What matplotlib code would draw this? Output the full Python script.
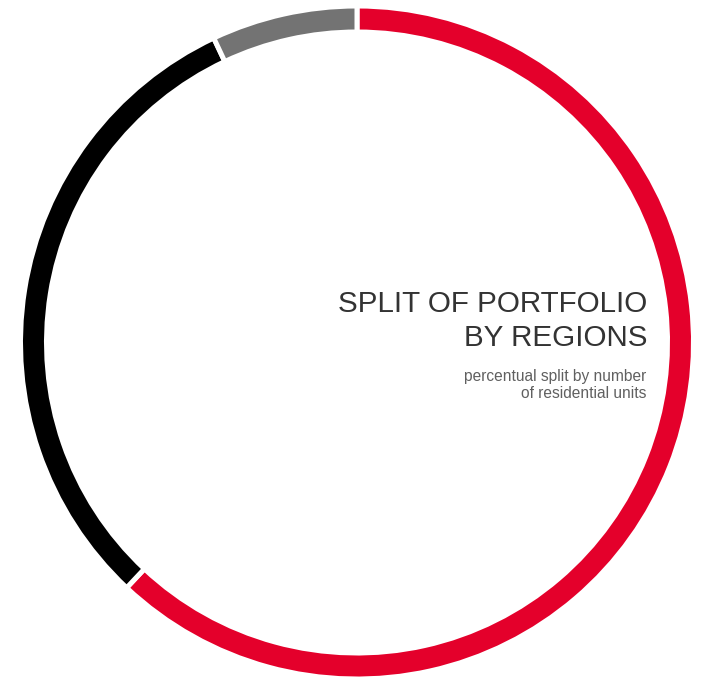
import matplotlib.pyplot as plt

regions = ['Region A', 'Region B', 'Region C']
shares = [62, 31, 7]
colors = ['#E4002B', '#000000', '#737373']

title_lines = ['SPLIT OF PORTFOLIO', 'BY REGIONS']
subtitle_lines = ['percentual split by number', 'of residential units']

W, H = 703, 677
fig = plt.figure(figsize=(W / 100, H / 100), dpi=100)
ax = fig.add_axes([0, 0, 1, 1])

# ring: outer radius ~334 px, band ~21 px, white edges make the gaps
gap = 5
ax.pie(shares, colors=colors, startangle=90, counterclock=False,
       center=(357, H - 342.5), radius=334 + gap / 2,
       wedgeprops=dict(width=21 + gap, edgecolor='white', linewidth=gap * 0.72))

ax.set_xlim(0, W)
ax.set_ylim(0, H)
ax.set_aspect('equal')
ax.axis('off')

tfont = dict(family='Liberation Sans', fontsize=21.3, color='#333333')
sfont = dict(family='Liberation Sans', fontsize=11.2, color='#606060')
ax.text(647, H - 312.5, title_lines[0], ha='right', va='baseline', **tfont)
ax.text(647, H - 346, title_lines[1], ha='right', va='baseline', **tfont)
ax.text(646, H - 381.5, subtitle_lines[0], ha='right', va='baseline', **sfont)
ax.text(646, H - 398, subtitle_lines[1], ha='right', va='baseline', **sfont)

fig.savefig('out.png', dpi=100)
